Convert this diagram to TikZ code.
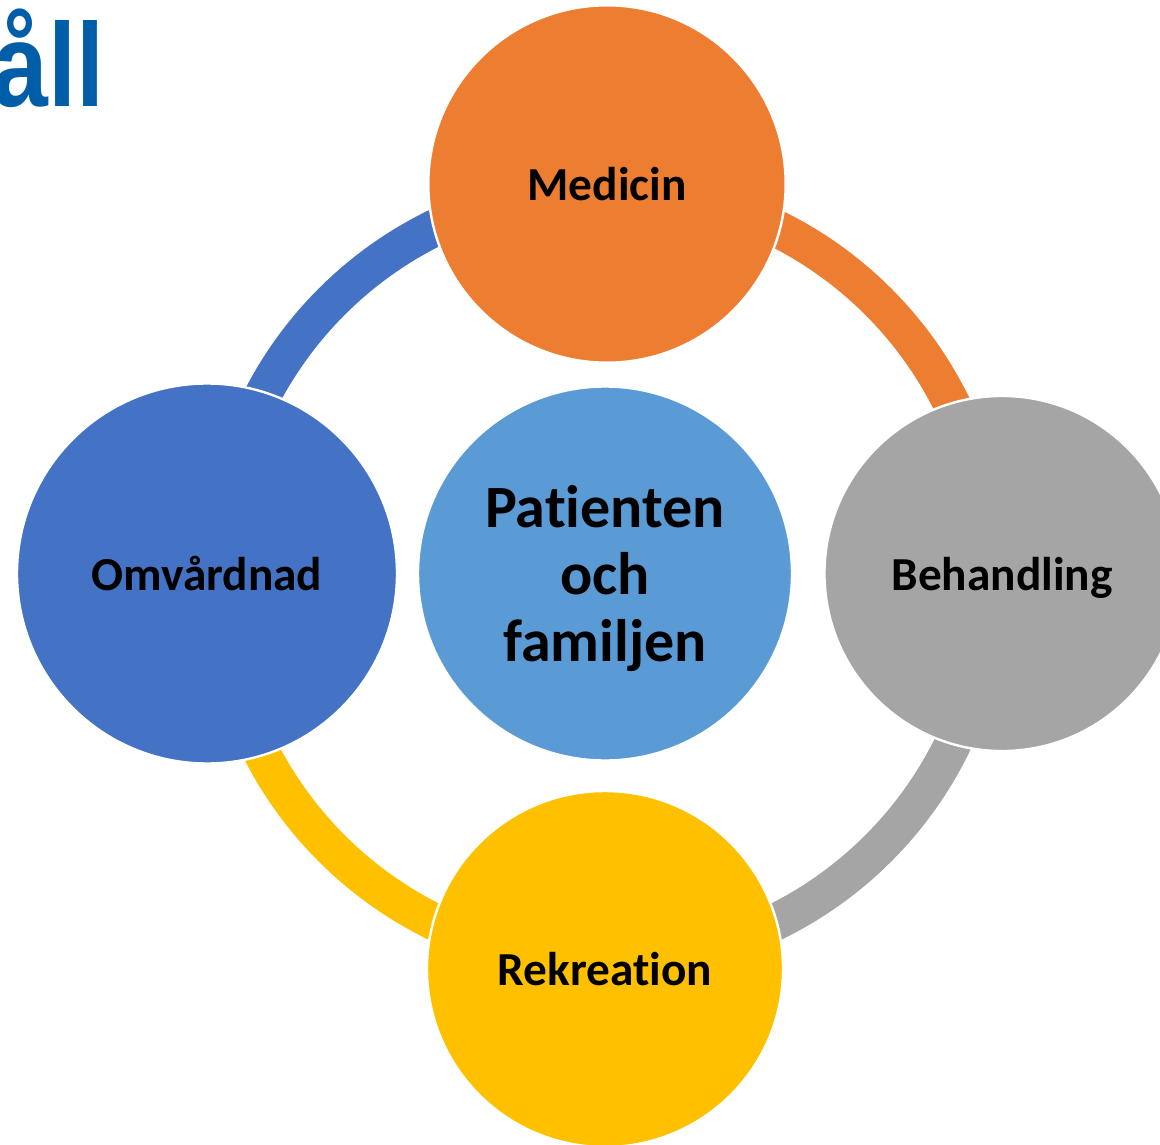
\documentclass[tikz,border=0pt]{standalone}
\usepackage{fontspec}
\setmainfont{Carlito}[Ligatures={NoCommon}]
\newfontfamily\titlefont{Liberation Sans}
\usepackage{graphicx}

\definecolor{medorange}{RGB}{237,125,49}
\definecolor{behgray}{RGB}{165,165,165}
\definecolor{rekyellow}{RGB}{255,192,0}
\definecolor{omvblue}{RGB}{68,114,196}
\definecolor{patblue}{RGB}{91,155,213}
\definecolor{titleblue}{RGB}{0,94,168}

\tikzset{every picture/.style={line width=0.75pt}}
\tikzset{
  bubble/.style={circle, draw=white, line width=1.8pt, inner sep=0pt, text=black,
    font=\bfseries\fontsize{35.5}{40}\selectfont, text depth=0pt},
  ringpart/.style={line width=27.75pt}
}

\begin{document}
\begin{tikzpicture}[x=0.75pt,y=0.75pt,yscale=-1,xscale=1]
\clip (0,0) rectangle (1160,1145);
%set diagram left start at 0, and has height of 1145

\coordinate (hub) at (605,575);

%Block Arc: Medicin to Behandling
\draw [ringpart, medorange] (hub) ++(270:386.5) arc (270:360:386.5);
%Block Arc: Behandling to Rekreation
\draw [ringpart, behgray] (hub) ++(0:386.5) arc (0:90:386.5);
%Block Arc: Rekreation to Omvardnad
\draw [ringpart, rekyellow] (hub) ++(90:386.5) arc (90:180:386.5);
%Block Arc: Omvardnad to Medicin
\draw [ringpart, omvblue] (hub) ++(180:386.5) arc (180:270:386.5);

%Shape: Circle
\node [bubble, fill=medorange, minimum size=268pt] (medicin) at (607,184) {Medicin};
%Shape: Circle
\node [bubble, fill=behgray, minimum size=266.3pt] (behandling) at (1002,573.5) {Behandling};
%Shape: Circle
\node [bubble, fill=rekyellow, minimum size=267pt] (rekreation) at (605,969) {Rekreation};
%Shape: Circle
\node [bubble, fill=omvblue, minimum size=285pt] (omvardnad) at (207,573.5) {Omvårdnad};
%Shape: Circle
\node [bubble, fill=patblue, minimum size=280.5pt, align=center,
  font=\bfseries\fontsize{45}{50.25}\selectfont] (patienten) at (605,573.5) {Pat\kern0pt ienten\\och\\familjen};

% Text Node
\node [anchor=base east, inner sep=0pt, text=titleblue,
  font=\titlefont\bfseries\fontsize{89}{89}\selectfont] (title) at (105,107) {\scalebox{0.85}[1]{åll}};

\end{tikzpicture}
\end{document}
